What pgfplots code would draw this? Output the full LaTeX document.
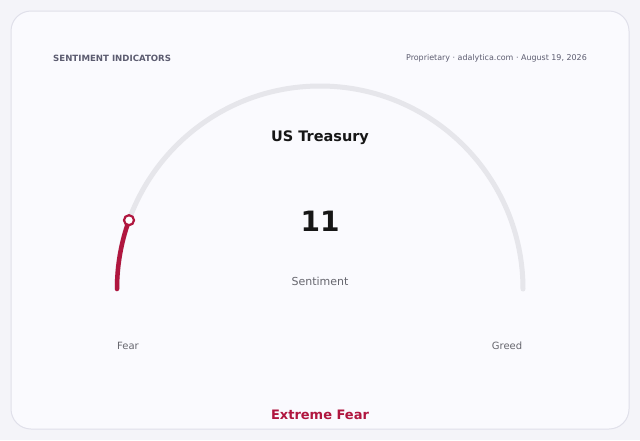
\documentclass[border=0pt]{standalone}
\usepackage{pgfplots}
\pgfplotsset{compat=1.18}
\usepackage{fontspec}
\setmainfont{DejaVu Sans}
\definecolor{pagebg}{HTML}{F4F4F9}
\definecolor{cardbg}{HTML}{FAFAFE}
\definecolor{cardborder}{HTML}{E0E0EA}
\definecolor{track}{HTML}{E6E6EB}
\definecolor{crimson}{HTML}{B0163F}
\definecolor{headgray}{HTML}{5C5C70}
\definecolor{subgray}{HTML}{66666E}
\definecolor{darktext}{HTML}{161616}
\begin{document}
\begin{tikzpicture}
\begin{axis}[width=640pt,height=440pt,scale only axis,
  xmin=0,xmax=640,ymin=0,ymax=440,y dir=reverse,
  axis lines=none,clip=false]
\fill[pagebg] (axis cs:0,0) rectangle (axis cs:640,440);
\draw[cardborder,fill=cardbg,line width=1pt,rounded corners=20pt] (axis cs:11,11) rectangle (axis cs:629,429);
% gauge track
\draw[track,line width=5pt,line cap=round] (axis cs:117,289) arc[start angle=180,end angle=0,radius=203pt];
% value arc (value = 11 of 100)
\pgfmathsetmacro{\gval}{11}
\pgfmathsetmacro{\gang}{180-1.8*\gval}
\draw[crimson,line width=4.5pt,line cap=round] (axis cs:117,289) arc[start angle=180,end angle=\gang,radius=203pt];
\addplot[only marks,mark=*,mark size=5pt,mark options={fill=white,draw=crimson,line width=2.2pt}] coordinates {(129.0,220.2)};
% texts
\node[anchor=west,inner sep=0pt,text=headgray,font=\fontsize{8.6}{10}\selectfont\bfseries] at (axis cs:53,58) {SENTIMENT INDICATORS};
\node[anchor=east,inner sep=0pt,text=headgray,font=\fontsize{7.95}{9}\selectfont] at (axis cs:587,58) {Proprietary · adalytica.com · August 19, 2026};
\node[text=darktext,font=\fontsize{14.5}{17}\selectfont\bfseries] at (axis cs:320,137.5) {US Treasury};
\node[text=darktext,font=\fontsize{28}{34}\selectfont\bfseries] at (axis cs:320,221) {11};
\node[text=subgray,font=\fontsize{11}{13}\selectfont] at (axis cs:320,281.5) {Sentiment};
\node[text=subgray,font=\fontsize{10}{12}\selectfont] at (axis cs:128,345.5) {Fear};
\node[text=subgray,font=\fontsize{10}{12}\selectfont] at (axis cs:507,345.5) {Greed};
\node[text=crimson,font=\fontsize{13}{15}\selectfont\bfseries] at (axis cs:320,414.5) {Extreme Fear};
\end{axis}
\end{tikzpicture}
\end{document}
